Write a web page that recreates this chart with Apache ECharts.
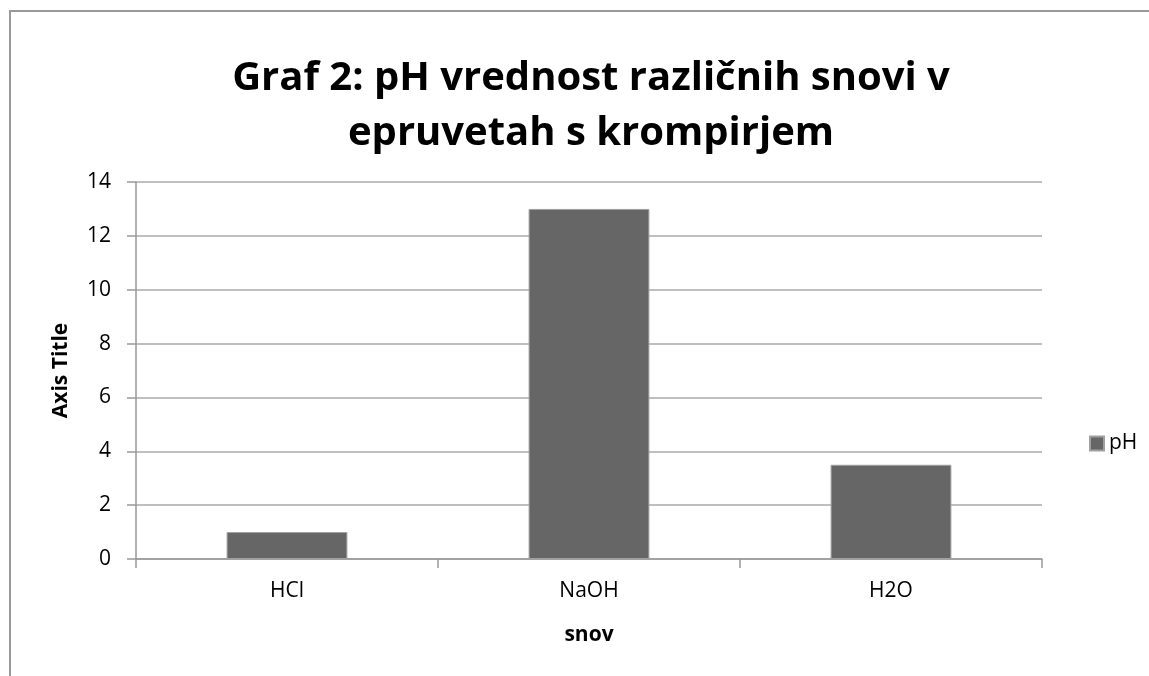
<!DOCTYPE html>
<html>
<head>
<meta charset="utf-8">
<script src="https://cdn.jsdelivr.net/npm/echarts@6/dist/echarts.min.js"></script>
<style>
  html, body { margin: 0; padding: 0; background: #fff; }
  #chart { width: 1149px; height: 676px; }
</style>
</head>
<body>
<div id="chart"></div>
<script>
// podatki
var categories = ['HCl', 'NaOH', 'H2O'];
var phValues = [1, 13, 3.5];
var seriesName = 'pH';

var chart = echarts.init(document.getElementById('chart'));

var font = 'Open Sans, Liberation Sans, sans-serif';

var option = {
  animation: false,
  backgroundColor: '#fff',
  graphic: [{
    // okvir grafa
    type: 'rect',
    shape: { x: 10, y: 11, width: 1200, height: 700 },
    style: { fill: 'none', stroke: '#999', lineWidth: 2 }
  }],
  title: {
    text: 'Graf 2: pH vrednost različnih snovi v\nepruvetah s krompirjem',
    left: 586,
    textAlign: 'center',
    top: 46,
    textStyle: {
      fontFamily: font,
      fontSize: 40,
      fontWeight: 'bold',
      color: '#000',
      lineHeight: 55
    }
  },
  legend: {
    left: 1084,
    top: 428,
    orient: 'vertical',
    itemWidth: 14,
    itemHeight: 14,
    itemGap: 8,
    icon: 'rect',
    textStyle: { fontFamily: font, fontSize: 21, color: '#000' },
    data: [seriesName]
  },
  grid: {
    left: 136,
    right: 107,
    top: 182,
    bottom: 117
  },
  xAxis: {
    type: 'category',
    data: categories,
    name: 'snov',
    nameLocation: 'middle',
    nameGap: 66,
    nameTextStyle: { fontFamily: font, fontSize: 21, fontWeight: 'bold', color: '#000' },
    axisLine: { lineStyle: { color: '#999', width: 1.5 } },
    axisTick: { show: true, length: 9, lineStyle: { color: '#999', width: 1.5 } },
    axisLabel: { fontFamily: font, fontSize: 21, color: '#000', margin: 22 }
  },
  yAxis: {
    type: 'value',
    min: 0,
    max: 14,
    interval: 2,
    name: 'Axis Title',
    nameLocation: 'middle',
    nameRotate: 90,
    nameGap: 64,
    nameTextStyle: { fontFamily: font, fontSize: 21, fontWeight: 'bold', color: '#000' },
    axisLine: { show: true, lineStyle: { color: '#999', width: 1.5 } },
    axisTick: { show: true, length: 9, lineStyle: { color: '#999', width: 1.5 } },
    axisLabel: { fontFamily: font, fontSize: 21, color: '#000', margin: 25 },
    splitLine: { lineStyle: { color: '#aaa', width: 1.5 } }
  },
  series: [{
    name: seriesName,
    type: 'bar',
    data: phValues,
    barWidth: '40%',
    itemStyle: { color: '#666666', borderColor: '#a0a0a0', borderWidth: 1 }
  }]
};

chart.setOption(option);
</script>
</body>
</html>
